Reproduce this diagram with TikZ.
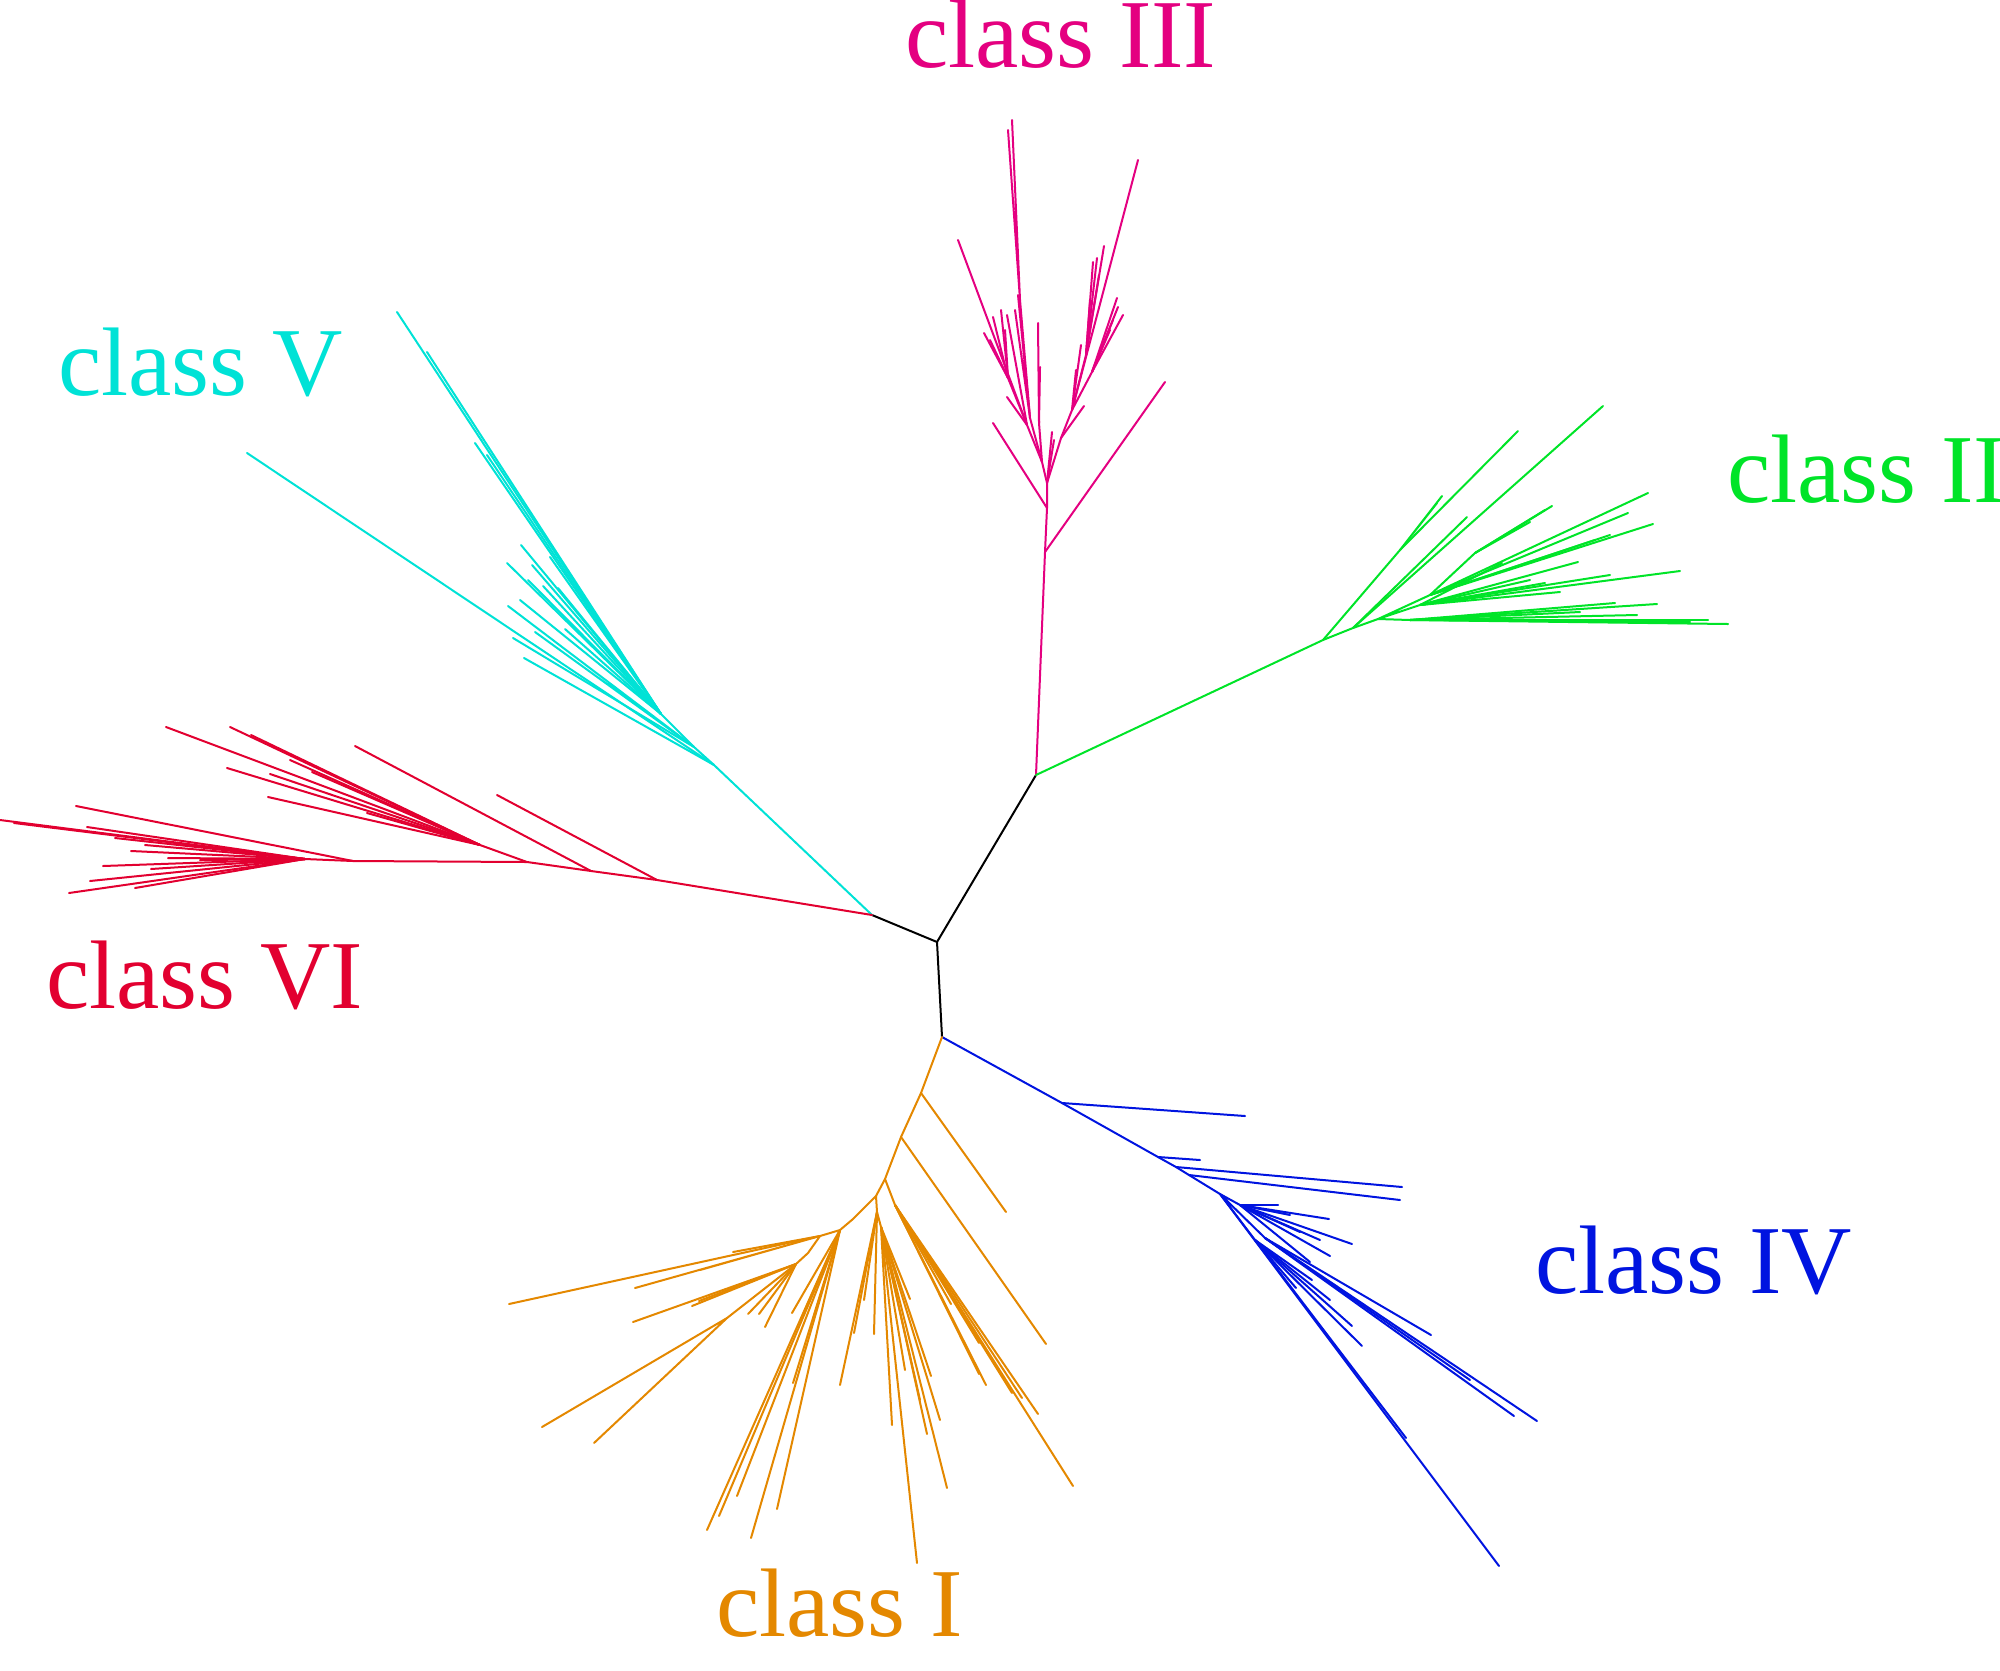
\documentclass[tikz,border=0pt]{standalone}
\usepackage{fontspec}
\setmainfont{Liberation Serif}
\definecolor{cpink}{RGB}{228,0,128}
\definecolor{cgreen}{RGB}{0,228,40}
\definecolor{ccyan}{RGB}{0,226,214}
\definecolor{cred}{RGB}{226,0,48}
\definecolor{cblue}{RGB}{0,20,224}
\definecolor{corange}{RGB}{228,136,0}
\tikzset{
  br/.style={line width=1pt, line cap=round, line join=round},
  lab/.style={inner sep=0pt, anchor=base west, font=\fontsize{48.7}{54}\selectfont}
}
\begin{document}
\begin{tikzpicture}[x=0.5pt,y=-0.5pt]
\useasboundingbox (0,0) rectangle (2000,1670);
% hubs
\coordinate (C) at (937,942);
\coordinate (T) at (1036,775);
\coordinate (L) at (872,915);
\coordinate (B) at (942,1037);
\draw[br,black] (C) -- (T) (C) -- (L) (C) -- (B);

% ---------- class III (pink)
\coordinate (P1) at (1045,552);
\coordinate (P2) at (1047,508);
\coordinate (P3) at (1047,483);
\coordinate (Pr) at (1061,438);
\coordinate (Pf) at (1072,410);
\coordinate (Pg) at (1086,355);
\coordinate (Ph) at (1092,372);
\coordinate (Pl) at (1042,462);
\coordinate (Pa) at (1030,418);
\coordinate (Pb) at (1020,300);
\coordinate (Pd) at (1027,425);
\coordinate (Pe) at (1008,378);
\begin{scope}[br,cpink]
\draw (T) -- (P1) -- (P2) -- (P3) -- (Pr) -- (Pf);
\draw (P1) -- (1165,382);
\draw (P2) -- (993,423);
\draw (P3) -- (1052,432);
\draw (P3) -- (1054,440);
\draw (Pr) -- (1084,406);
\draw (Pf) -- (1138,160);
\draw (Pf) -- (Pg) (Pf) -- (Ph);
\foreach \p in {(1104,246),(1093,262),(1099,275),(1090,300),(1097,258)} \draw (Pg) -- \p;
\foreach \p in {(1123,315),(1118,307),(1117,298),(1110,330),(1113,320)} \draw (Ph) -- \p;
\draw (Pf) -- (1076,370) (Pf) -- (1081,345);
\draw (P3) -- (Pl) -- (Pa) -- (Pb);
\draw (Pb) -- (1012,120) (Pb) -- (1008,130);
\draw (Pa) -- (1018,295) (Pa) -- (1015,310);
\draw (Pl) -- (1039,423) -- (1038,323);
\draw (1039,423) -- (1040,367);
\draw (Pl) -- (Pd) -- (958,240);
\draw (Pd) -- (Pe);
\foreach \p in {(984,333),(993,317),(1001,310),(990,340),(1005,330)} \draw (Pe) -- \p;
\draw (Pd) -- (1007,315) (Pd) -- (1007,397);
\end{scope}

% ---------- class II (green)
\coordinate (G1) at (1323,640);
\coordinate (Ga) at (1400,550);
\coordinate (G2) at (1353,628);
\coordinate (G3) at (1378,619);
\coordinate (Gu) at (1430,595);
\coordinate (Gv) at (1475,553);
\coordinate (Gm) at (1420,605);
\coordinate (Gh) at (1410,620);
\begin{scope}[br,cgreen]
\draw (T) -- (G1) -- (G2) -- (G3);
\draw (G1) -- (Ga) -- (1518,431);
\draw (Ga) -- (1442,496) (Ga) -- (1437,503);
\draw (G2) -- (1467,517);
\draw (G2) -- (1603,406);
\draw (G3) -- (Gu) (G3) -- (Gm) (G3) -- (Gh);
\foreach \p in {(1648,493),(1628,513),(1653,524),(1610,535),(1595,540)} \draw (Gu) -- \p;
\draw (Gu) -- (Gv);
\foreach \p in {(1552,506),(1545,510),(1530,522)} \draw (Gv) -- \p;
\foreach \p in {(1680,571),(1578,562),(1545,583),(1560,592),(1502,563),(1530,580),(1610,575)} \draw (Gm) -- \p;
\foreach \p in {(1728,624),(1708,620),(1637,615),(1657,604),(1615,603),(1690,622),(1580,612)} \draw (Gh) -- \p;
\end{scope}

% ---------- class V (cyan)
\coordinate (V1) at (714,765);
\coordinate (V2) at (694,747);
\coordinate (V3) at (661,714);
\begin{scope}[br,ccyan]
\draw (L) -- (V1) -- (V2) -- (V3);
\draw (V1) -- (247,453);
\draw (V1) -- (524,658);
\draw (V2) -- (513,638);
\draw (V2) -- (508,606) (V2) -- (535,632);
\foreach \p in {(397,312),(427,352),(475,443),(487,455),(521,545),(507,563),(532,565),(550,557),(543,586),(558,588),(565,629),(520,600),(528,580)} \draw (V3) -- \p;
\end{scope}

% ---------- class VI (red)
\coordinate (R1) at (657,880);
\coordinate (R2) at (591,871);
\coordinate (R3) at (527,862);
\coordinate (R4) at (353,861);
\coordinate (R5) at (305,859);
\coordinate (Rh) at (480,845);
\begin{scope}[br,cred]
\draw (L) -- (R1) -- (R2) -- (R3) -- (R4) -- (R5);
\draw (R1) -- (497,795);
\draw (R2) -- (355,746);
\draw (R3) -- (Rh);
\foreach \p in {(166,727),(230,727),(251,735),(227,768),(270,774),(312,772),(268,797),(367,813),(290,760)} \draw (Rh) -- \p;
\draw (R4) -- (76,806);
\foreach \p in {(0,820),(14,823),(87,827),(115,838),(145,845),(131,851),(168,858),(103,866),(151,869),(90,881),(69,893),(135,888),(200,860)} \draw (R5) -- \p;
\end{scope}

% ---------- class IV (blue)
\coordinate (Q1) at (1062,1103);
\coordinate (Q2) at (1158,1157);
\coordinate (Q3) at (1176,1167);
\coordinate (Q4) at (1189,1175);
\coordinate (Q5) at (1220,1194);
\coordinate (Qa) at (1240,1205);
\coordinate (Qb) at (1255,1240);
\coordinate (Qc) at (1265,1238);
\begin{scope}[br,cblue]
\draw (B) -- (Q1) -- (Q2) -- (Q3) -- (Q4) -- (Q5);
\draw (Q1) -- (1245,1116);
\draw (Q2) -- (1200,1160);
\draw (Q3) -- (1402,1187);
\draw (Q4) -- (1400,1200);
\draw (Q5) -- (Qa) (Q5) -- (Qb) (Q5) -- (Qc);
\foreach \p in {(1278,1205),(1329,1219),(1352,1244),(1330,1256),(1310,1262),(1300,1232),(1290,1215),(1320,1240)} \draw (Qa) -- \p;
\draw (Q5) -- (1499,1566);
\foreach \p in {(1312,1280),(1296,1288),(1352,1326),(1362,1346),(1406,1438),(1330,1300)} \draw (Qb) -- \p;
\foreach \p in {(1431,1335),(1537,1421),(1514,1416),(1470,1380)} \draw (Qc) -- \p;
\end{scope}

% ---------- class I (orange)
\coordinate (O1) at (921,1093);
\coordinate (O2) at (901,1137);
\coordinate (O3) at (885,1179);
\coordinate (O4) at (876,1196);
\coordinate (Ox) at (895,1205);
\coordinate (Od) at (877,1212);
\coordinate (Oe) at (881,1227);
\coordinate (Of) at (853,1219);
\coordinate (Og) at (840,1230);
\coordinate (Oh) at (820,1236);
\coordinate (Oi) at (808,1253);
\coordinate (Oj) at (796,1264);
\coordinate (Ok) at (727,1318);
\begin{scope}[br,corange]
\draw (B) -- (O1) -- (O2) -- (O3) -- (O4);
\draw (O1) -- (1006,1212);
\draw (O2) -- (1046,1344);
\draw (O3) -- (Ox);
\foreach \p in {(1073,1486),(1038,1414),(1022,1398),(1012,1393),(986,1385),(979,1374),(979,1343),(951,1304)} \draw (Ox) -- \p;
\draw (O4) -- (Od) -- (Oe);
\foreach \p in {(910,1299),(947,1488),(917,1563),(931,1376),(927,1434),(892,1425),(920,1400),(940,1420),(905,1370)} \draw (Oe) -- \p;
\foreach \p in {(840,1385),(854,1333),(864,1300),(874,1334)} \draw (Od) -- \p;
\draw (O4) -- (Of) -- (Og) -- (Oh);
\foreach \p in {(707,1530),(751,1538),(719,1516),(737,1496),(777,1509),(793,1383),(806,1309),(792,1313)} \draw (Og) -- \p;
\draw (Oh) -- (509,1304);
\draw (Oh) -- (635,1288) (Oh) -- (733,1252) (Oh) -- (700,1270);
\draw (Oh) -- (Oi) -- (Oj) -- (Ok);
\foreach \p in {(633,1322),(692,1306),(748,1314),(759,1314),(765,1327),(699,1301)} \draw (Oj) -- \p;
\draw (Ok) -- (542,1427) (Ok) -- (594,1443);
\end{scope}

% ---------- labels
\node[lab,text=cpink] (lIII) at (905,67) {class III};
\node[lab,text=cgreen] (lII) at (1727,502) {class II};
\node[lab,text=ccyan] (lV) at (58,395) {class V};
\node[lab,text=cred] (lVI) at (46,1008) {class VI};
\node[lab,text=cblue] (lIV) at (1535,1293) {class IV};
\node[lab,text=corange] (lI) at (716,1636) {class I};
\end{tikzpicture}
\end{document}
